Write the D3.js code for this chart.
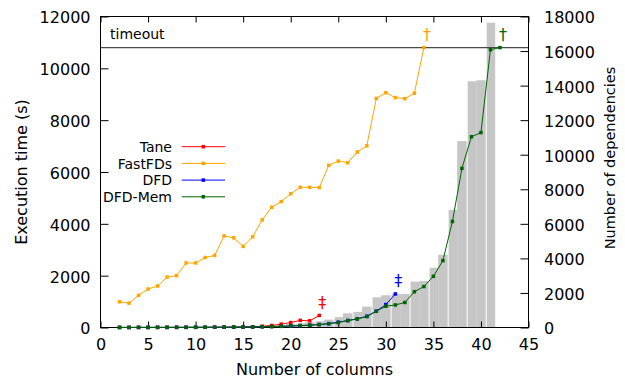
<!DOCTYPE html>
<html>
<head>
<meta charset="utf-8">
<script src="https://cdn.jsdelivr.net/npm/d3@7/dist/d3.min.js"></script>
<style>
  body { margin: 0; background: #fff; }
  text { font-family: "DejaVu Sans", sans-serif; fill: #000; }
</style>
</head>
<body>
<script>
// chart data
const columns = [2, 3, 4, 5, 6, 7, 8, 9, 10, 11, 12, 13, 14, 15, 16, 17, 18, 19, 20, 21,
                 22, 23, 24, 25, 26, 27, 28, 29, 30, 31, 32, 33, 34, 35, 36, 37, 38, 39, 40, 41, 42];

const taneTime = [2, 2, 3, 3, 4, 4, 5, 6, 7, 8, 10, 12, 15, 20, 30, 50, 78, 130, 190, 275, 258, 465];
const fastFDsTime = [990, 940, 1240, 1485, 1600, 1945, 2000, 2490, 2490, 2700, 2780, 3530, 3460, 3130,
                     3500, 4150, 4640, 4860, 5160, 5410, 5410, 5400, 6260, 6420, 6360, 6770, 7010,
                     8840, 9060, 8870, 8830, 9040, 10800];
const dfdTime = [3, 3, 4, 4, 5, 5, 6, 7, 8, 9, 10, 12, 14, 17, 22, 28, 36, 46, 58, 72, 90, 115, 150,
                 205, 270, 335, 435, 630, 885, 1295];
const dfdMemTime = [3, 3, 4, 4, 5, 5, 6, 7, 8, 9, 10, 12, 14, 17, 22, 28, 36, 46, 58, 72, 90, 112, 145,
                    190, 265, 330, 420, 625, 820, 870, 965, 1380, 1580, 1975, 2580, 4090, 6140, 7360,
                    7520, 10720, 10800];
const dependencies = [1, 2, 3, 4, 6, 8, 10, 12, 15, 18, 22, 27, 33, 40, 50, 70, 105, 150, 200, 245,
                      300, 360, 460, 600, 820, 905, 1210, 1750, 1865, 1950, 1945, 2655, 2690, 3460,
                      4210, 6810, 10790, 14250, 14310, 17640];

const TIMEOUT = 10800;
const xTicks = [0, 5, 10, 15, 20, 25, 30, 35, 40, 45];
const yTicks = [0, 2000, 4000, 6000, 8000, 10000, 12000];
const y2Ticks = [0, 2000, 4000, 6000, 8000, 10000, 12000, 14000, 16000, 18000];

const series = [
    { name: 'Tane', values: taneTime, color: '#ff0000', mark: '\u2021' },
    { name: 'FastFDs', values: fastFDsTime, color: '#ffa500', mark: '\u2020' },
    { name: 'DFD', values: dfdTime, color: '#0000ff', mark: '\u2021' },
    { name: 'DFD-Mem', values: dfdMemTime, color: '#006400', mark: '\u2020' }
];

const SCREEN = { width: 625, height: 377, left: 100.5, right: 528.5, top: 16.5, bottom: 327.5 };

const svg = d3.select('body').append('svg')
    .attr('width', SCREEN.width)
    .attr('height', SCREEN.height);

const x = d3.scaleLinear().domain([0, 45]).range([SCREEN.left, SCREEN.right]);
const y = d3.scaleLinear().domain([0, 12000]).range([SCREEN.bottom, SCREEN.top]);
const y2 = d3.scaleLinear().domain([0, 18000]).range([SCREEN.bottom, SCREEN.top]);

// dependency bars (right axis), white seam before every odd column like the original
const bars = dependencies.map((v, i) => ({ col: columns[i], value: v }));
svg.append('g').selectAll('rect')
    .data(bars)
    .enter().append('rect')
    .attr('x', d => x(d.col - 0.5) + (d.col % 2 ? 1 : 0))
    .attr('width', d => x(d.col + 0.5) - x(d.col - 0.5) - (d.col % 2 ? 1 : 0))
    .attr('y', d => y2(d.value))
    .attr('height', d => y2(0) - y2(d.value))
    .attr('fill', '#c6c6c6');

// timeout line
svg.append('line')
    .attr('x1', SCREEN.left).attr('x2', SCREEN.right)
    .attr('y1', y(TIMEOUT)).attr('y2', y(TIMEOUT))
    .attr('stroke', '#4a4a4a')
    .attr('stroke-width', 1.2);
svg.append('text')
    .attr('x', 110).attr('y', 39)
    .style('font-size', '14px')
    .text('timeout');

// axes, ticks pointing inwards
const fontSize = '16px';
const axisBottom = d3.axisBottom(x).tickValues(xTicks).tickSize(-6).tickPadding(11.5);
const axisTop = d3.axisTop(x).tickValues(xTicks).tickSize(-6).tickFormat('');
const axisLeft = d3.axisLeft(y).tickValues(yTicks).tickSize(-8).tickPadding(10).tickFormat(d3.format('d'));
const axisRight = d3.axisRight(y2).tickValues(y2Ticks).tickSize(-8).tickPadding(15.5).tickFormat(d3.format('d'));

const gx = svg.append('g').attr('transform', `translate(0,${SCREEN.bottom})`).call(axisBottom);
const gxt = svg.append('g').attr('transform', `translate(0,${SCREEN.top})`).call(axisTop);
const gy = svg.append('g').attr('transform', `translate(${SCREEN.left},0)`).call(axisLeft);
const gy2 = svg.append('g').attr('transform', `translate(${SCREEN.right},0)`).call(axisRight);

[gx, gxt, gy, gy2].forEach(g => {
    g.select('.domain').remove();
    g.selectAll('line').attr('stroke', '#000');
    g.selectAll('text').style('font-size', fontSize).style('font-family', '"DejaVu Sans", sans-serif').attr('fill', '#000');
});
gy.selectAll('text').attr('dy', '0.4em');
gy2.selectAll('text').attr('dy', '0.4em');

svg.append('rect')
    .attr('x', SCREEN.left).attr('y', SCREEN.top)
    .attr('width', SCREEN.right - SCREEN.left)
    .attr('height', SCREEN.bottom - SCREEN.top)
    .attr('fill', 'none')
    .attr('stroke', '#000')
    .attr('stroke-width', 1);

// lines
const line = d3.line()
    .x(d => x(d.col))
    .y(d => y(d.value));

series.forEach(s => {
    const pts = s.values.map((v, i) => ({ col: columns[i], value: v }));
    const g = svg.append('g');
    g.append('path')
        .datum(pts)
        .attr('d', line)
        .attr('fill', 'none')
        .attr('stroke', s.color)
        .attr('stroke-width', 1);
    g.selectAll('rect')
        .data(pts)
        .enter().append('rect')
        .attr('x', d => x(d.col) - 1.75)
        .attr('y', d => y(d.value) - 1.75)
        .attr('width', 3.5).attr('height', 3.5)
        .attr('fill', s.color);
    const last = pts[pts.length - 1];
    g.append('text')
        .attr('x', x(last.col) + 3)
        .attr('y', y(last.value) - 7.5)
        .attr('text-anchor', 'middle')
        .style('font-size', '16px')
        .style('fill', s.color)
        .text(s.mark);
});

// legend
const legend = svg.append('g');
series.forEach((s, i) => {
    const ly = 146.7 + i * 16.7;
    legend.append('text')
        .attr('x', 172).attr('y', ly + 5.3)
        .attr('text-anchor', 'end')
        .style('font-size', '14px')
        .text(s.name);
    legend.append('line')
        .attr('x1', 181.7).attr('x2', 225)
        .attr('y1', ly).attr('y2', ly)
        .attr('stroke', s.color)
        .attr('stroke-width', 1);
    legend.append('rect')
        .attr('x', 203.3 - 1.75).attr('y', ly - 1.75)
        .attr('width', 3.5).attr('height', 3.5)
        .attr('fill', s.color);
});

// axis labels
svg.append('text')
    .attr('x', (SCREEN.left + SCREEN.right) / 2).attr('y', 374.5)
    .attr('text-anchor', 'middle')
    .style('font-size', fontSize)
    .text('Number of columns');

svg.append('text')
    .attr('transform', `translate(26.5,172) rotate(-90)`)
    .attr('text-anchor', 'middle')
    .style('font-size', fontSize)
    .text('Execution time (s)');

svg.append('text')
    .attr('transform', `translate(614.5,158) rotate(-90)`)
    .attr('text-anchor', 'middle')
    .style('font-size', '14.5px')
    .text('Number of dependencies');
</script>
</body>
</html>
